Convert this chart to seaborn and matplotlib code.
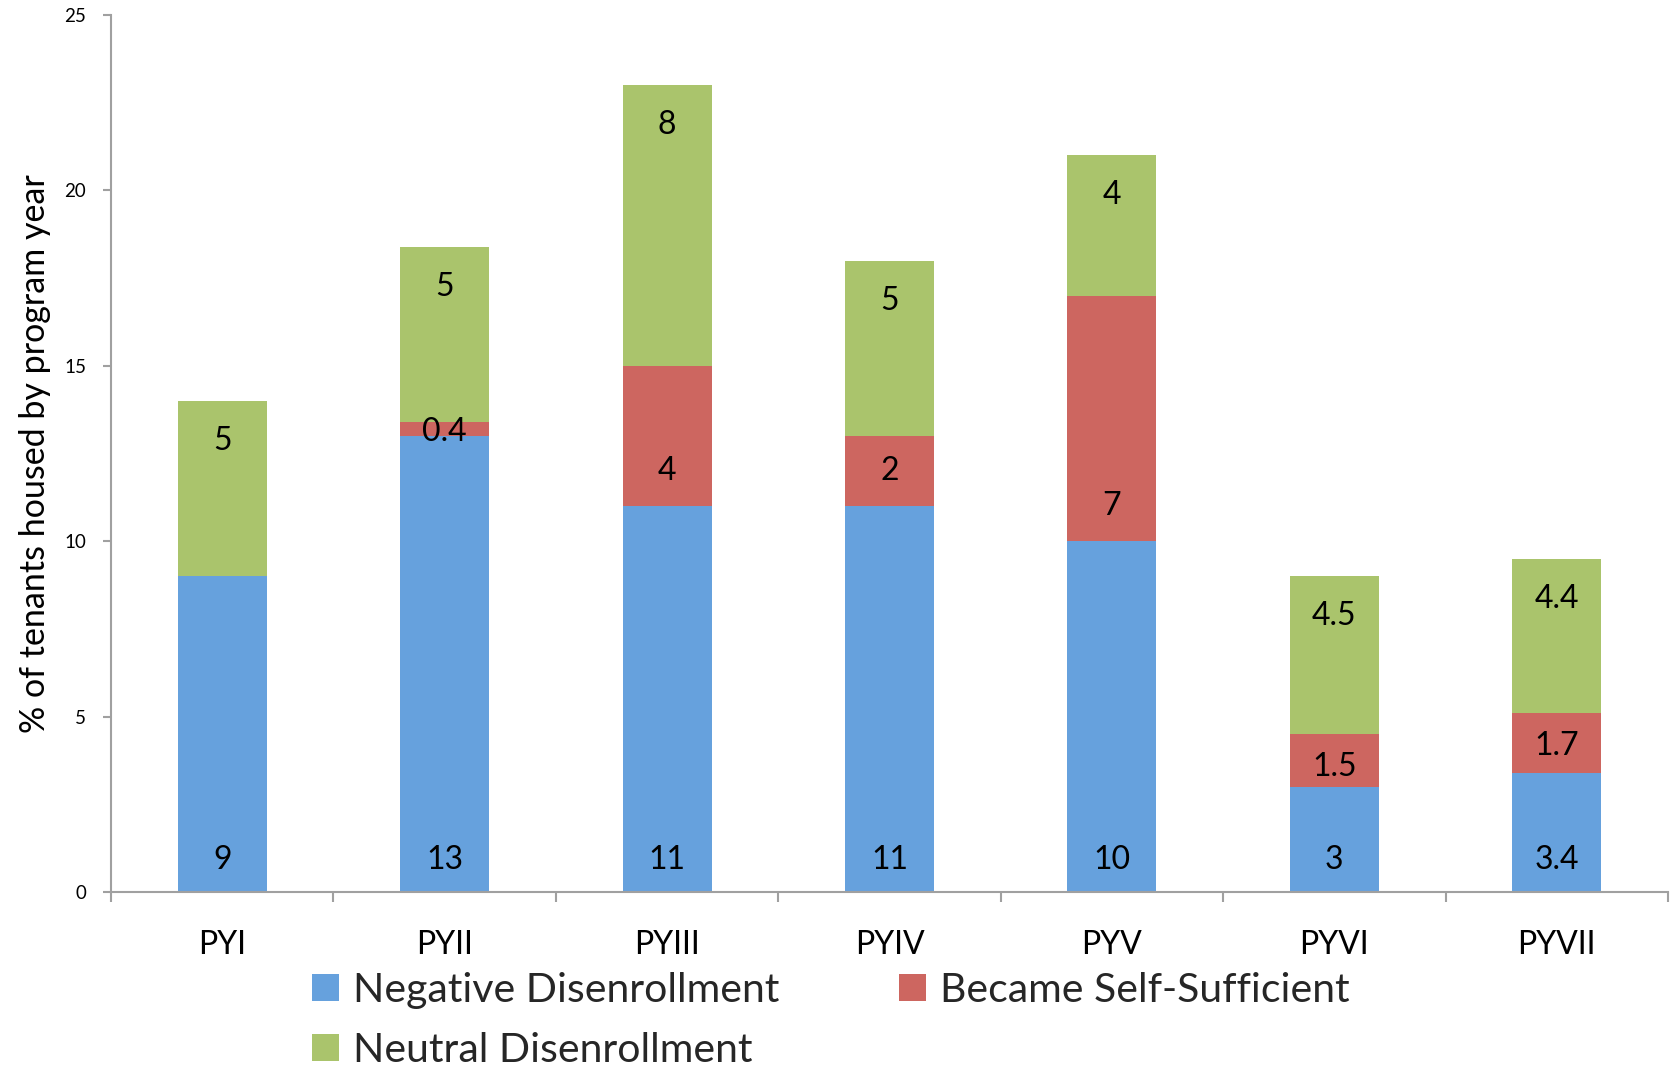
import matplotlib
matplotlib.use('Agg')
import matplotlib.pyplot as plt
import seaborn as sns
import pandas as pd
import numpy as np
from matplotlib.patches import Patch
from matplotlib.ticker import FixedLocator

# ---- data ----
years = ['PYI', 'PYII', 'PYIII', 'PYIV', 'PYV', 'PYVI', 'PYVII']
negative = [9, 13, 11, 11, 10, 3, 3.4]
self_sufficient = [0, 0.4, 4, 2, 7, 1.5, 1.7]
neutral = [5, 5, 8, 5, 4, 4.5, 4.4]
series_names = ['Negative Disenrollment', 'Became Self-Sufficient', 'Neutral Disenrollment']
y_ticks = [0, 5, 10, 15, 20, 25]
y_label = '% of tenants housed by program year'

BLUE = '#66A1DD'
RED = '#CD6660'
GREEN = '#AAC46C'
AXIS_GRAY = '#A0A0A0'

sns.set_theme(style='white')
plt.rcParams['font.family'] = ['Lato', 'DejaVu Sans']

DPI = 100
fig = plt.figure(figsize=(16.79, 10.70), dpi=DPI)
ax = fig.add_axes([111 / 1679, (1070 - 892) / 1070, (1668 - 111) / 1679, (892 - 15) / 1070])

df = pd.DataFrame({'year': years, 'neg': negative, 'ss': self_sufficient, 'neu': neutral})
df['top2'] = df['neg'] + df['ss']
df['top3'] = df['top2'] + df['neu']

for col, c in [('top3', GREEN), ('top2', RED), ('neg', BLUE)]:
    sns.barplot(data=df, x='year', y=col, color=c, saturation=1, width=0.4,
                errorbar=None, linewidth=0, ax=ax)

ax.set_xlim(-0.5, len(years) - 0.5)
ax.set_ylim(0, 25)
ax.set_yticks(y_ticks)
ax.set_xlabel('')
ax.set_ylabel(y_label, fontsize=24.5, color='black')
ax.yaxis.set_label_coords(-0.0385, 0.5)

for s in ['top', 'right']:
    ax.spines[s].set_visible(False)
for s in ['left', 'bottom']:
    ax.spines[s].set_color(AXIS_GRAY)
    ax.spines[s].set_linewidth(1.5)

ax.xaxis.set_minor_locator(FixedLocator(np.arange(-0.5, len(years), 1.0)))
ax.tick_params(axis='x', which='major', length=0, pad=27, labelsize=23, labelcolor='black')
ax.tick_params(axis='x', which='minor', length=7.5, width=1.5, color=AXIS_GRAY, direction='out', bottom=True)
ax.tick_params(axis='y', which='major', length=6, width=1.5, color=AXIS_GRAY, direction='out',
               left=True, pad=12, labelsize=13.5, labelcolor='black')

# ---- data labels ----
fig.canvas.draw()
px_per_unit = ax.bbox.height / 25.0
to_pt = 72.0 / DPI
LABEL_FS = 23

def fmt(v):
    return f'{v:g}'

for i in range(len(years)):
    # blue: inside base
    ax.annotate(fmt(negative[i]), (i, 0), xytext=(0, 32 * to_pt), textcoords='offset points',
                ha='center', va='center', fontsize=LABEL_FS, color='black')
    # red: inside base, squeezed for small segments
    if self_sufficient[i] > 0:
        seg_px = self_sufficient[i] * px_per_unit
        off_px = min(35, max(seg_px - 33, 0.25 * seg_px))
        ax.annotate(fmt(self_sufficient[i]), (i, negative[i]), xytext=(0, off_px * to_pt),
                    textcoords='offset points', ha='center', va='center', fontsize=LABEL_FS, color='black')
    # green: inside end
    top = negative[i] + self_sufficient[i] + neutral[i]
    ax.annotate(fmt(neutral[i]), (i, top), xytext=(0, -40 * to_pt), textcoords='offset points',
                ha='center', va='center', fontsize=LABEL_FS, color='black')

# ---- legend ----
h_neg = Patch(facecolor=BLUE, edgecolor='none', label=series_names[0])
h_ss = Patch(facecolor=RED, edgecolor='none', label=series_names[1])
h_neu = Patch(facecolor=GREEN, edgecolor='none', label=series_names[2])
LEG_FS = 29.5
common = dict(frameon=False, fontsize=LEG_FS, handlelength=0.66, handleheight=0.66,
              handletextpad=0.34, borderpad=0, borderaxespad=0, labelspacing=0.56)
leg1 = fig.legend(handles=[h_neg, h_neu], loc='upper left',
                  bbox_to_anchor=(312 / 1679, (1070 - 972) / 1070), **common)
leg2 = fig.legend(handles=[h_ss], loc='upper left',
                  bbox_to_anchor=(899 / 1679, (1070 - 972) / 1070), **common)

fig.savefig('out.png', dpi=DPI, facecolor='white')
